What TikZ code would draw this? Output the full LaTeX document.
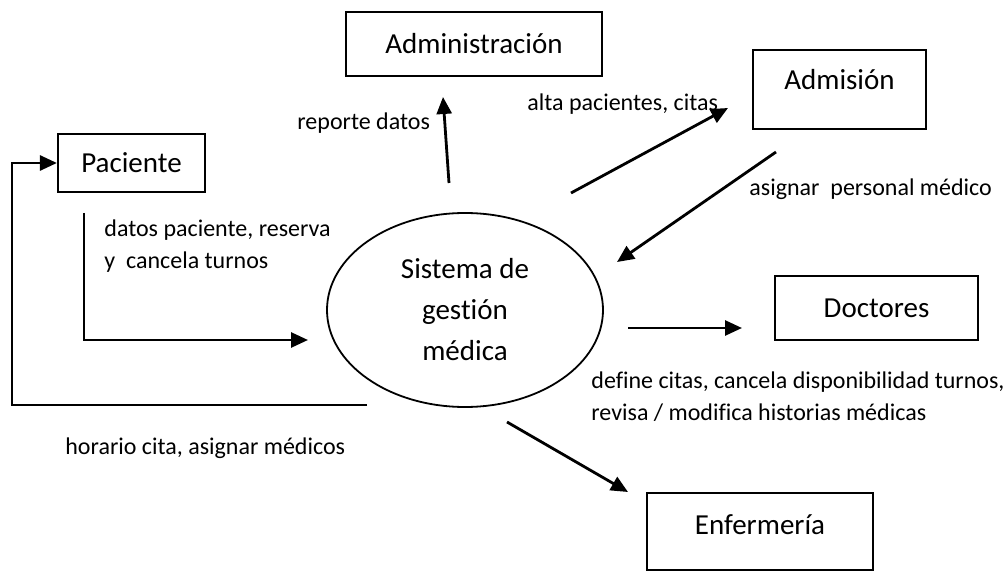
\documentclass[tikz,border=0pt]{standalone}
\usepackage{fontspec}
\setmainfont{Carlito}[Ligatures={NoCommon}]
\usetikzlibrary{arrows.meta,shapes.geometric}
\begin{document}
\begin{tikzpicture}[x=0.5pt,y=-0.5pt,
  boxnode/.style={draw,line width=1.1pt,rectangle,inner sep=3pt,
    font=\fontsize{14.5}{17}\selectfont,text height=11.5pt,text depth=1.5pt},
  procnode/.style={draw,line width=0.9pt,ellipse,inner sep=0pt,
    minimum width=138pt,minimum height=97pt,align=center,
    font=\fontsize{14.5}{20.5}\selectfont},
  lbl/.style={inner sep=0pt,anchor=west,align=left,
    font=\fontsize{12}{16}\selectfont},
  flow/.style={line width=1.4pt,-{Triangle[length=8.5pt,width=7.5pt]}}]
\useasboundingbox (0,0) rectangle (1008,572);
% nodes
\node[boxnode,minimum width=128pt,minimum height=32pt] (adm) at (474,44) {Administración};
\node[boxnode,minimum width=86.5pt,minimum height=39.5pt,text depth=11pt] (admi) at (839.5,89.5) {Admisión};
\node[boxnode,minimum width=73.5pt,minimum height=29pt] (pac) at (131.5,163) {Paciente};
\node[boxnode,minimum width=101.5pt,minimum height=32pt] (doc) at (876.5,308) {Doctores};
\node[boxnode,minimum width=113pt,minimum height=38.5pt,text depth=8pt] (enf) at (760,531.5) {Enfermería};
\node[procnode] (sys) at (465,310) {Sistema de\\gestión\\médica};
% labels
\node[lbl] (lrep) at (297,123) {reporte datos};
\node[lbl] (lalta) at (527,104) {alta pacientes, citas};
\node[lbl] (lasig) at (749,189) {asignar~ personal médico};
\node[lbl] (ldat) at (104,246) {datos paciente, reserva\\y~ cancela turnos};
\node[lbl] (ldef) at (591,397) {define citas, cancela disponibilidad turnos,\\revisa / modifica historias médicas};
\node[lbl] (lhor) at (65,448) {horario cita, asignar médicos};
% free ends
\coordinate (repS) at (449,183);
\coordinate (repE) at (443,97);
\coordinate (altS) at (571,193);
\coordinate (altE) at (728,108);
\coordinate (asiS) at (776,152);
\coordinate (asiE) at (617,262);
\coordinate (datS) at (84,213);
\coordinate (datC) at (84,340);
\coordinate (datE) at (308,340);
\coordinate (docS) at (628,328);
\coordinate (docE) at (742,328);
\coordinate (enfS) at (507,422);
\coordinate (enfE) at (628,492);
\coordinate (horS) at (367,405);
\coordinate (horC) at (12,405);
% connectors
\draw[flow] (repS) -- (repE);
\draw[flow] (altS) -- (altE);
\draw[flow] (asiS) -- (asiE);
\draw[flow] (datS) -- (datC) -- (datE);
\draw[flow] (docS) -- (docE);
\draw[flow] (enfS) -- (enfE);
\draw[flow] (horS) -- (horC) |- (pac.west);
\end{tikzpicture}
\end{document}
